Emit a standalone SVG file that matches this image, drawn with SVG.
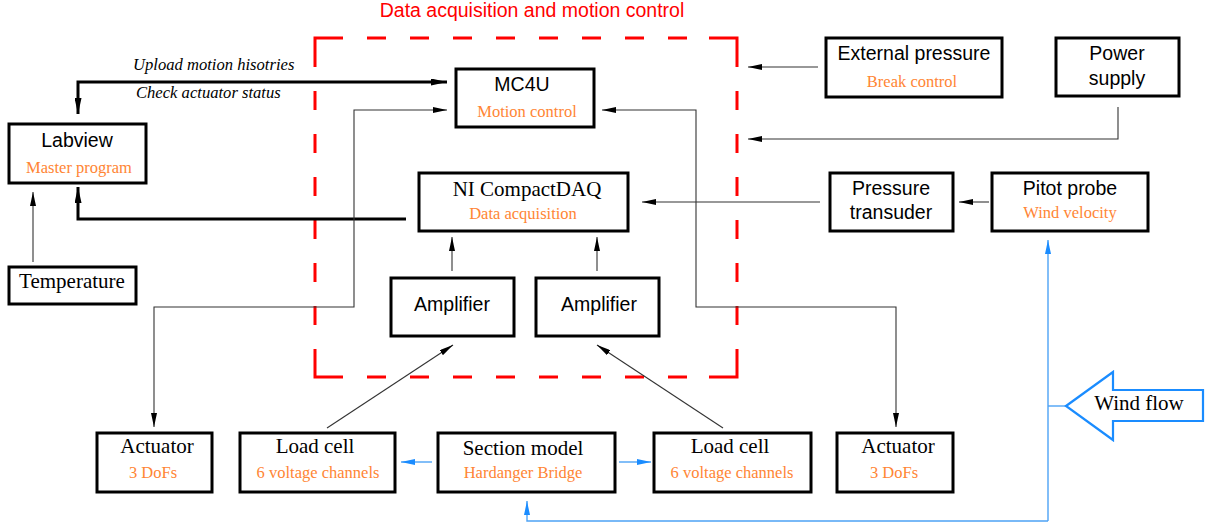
<svg xmlns="http://www.w3.org/2000/svg" width="1205" height="526" viewBox="0 0 1205 526">
  <style>
    .box { fill: #ffffff; stroke: #000000; stroke-width: 3; }
    .sans { font-family: "Liberation Sans", Arial, sans-serif; font-size: 19.5px; fill: #000000; text-anchor: middle; }
    .serif { font-family: "Liberation Serif", "Times New Roman", serif; font-size: 21px; fill: #000000; text-anchor: middle; }
    .sub { font-family: "Liberation Serif", "Times New Roman", serif; font-size: 16.5px; fill: #ff8534; text-anchor: middle; }
    .note { font-family: "Liberation Serif", "Times New Roman", serif; font-size: 16.6px; font-style: italic; fill: #000000; }
    .thin { fill: none; stroke: #333333; stroke-width: 1.1; }
    .thick { fill: none; stroke: #000000; stroke-width: 3; }
    .flow { fill: none; stroke: #4da3f5; stroke-width: 1.4; }
    .frame { fill: none; stroke: #ff0000; stroke-width: 3; }
  </style>
  <defs>
    <marker id="arr" viewBox="0 0 14 6" refX="14" refY="3" markerWidth="14" markerHeight="6" markerUnits="userSpaceOnUse" orient="auto-start-reverse">
      <path d="M0,0 L14,3 L0,6 Z" fill="#000000"/>
    </marker>
    <marker id="arrBold" viewBox="0 0 16 7" refX="16" refY="3.5" markerWidth="16" markerHeight="7" markerUnits="userSpaceOnUse" orient="auto-start-reverse">
      <path d="M0,0 L16,3.5 L0,7 Z" fill="#000000"/>
    </marker>
    <marker id="arrBlue" viewBox="0 0 14 6" refX="14" refY="3" markerWidth="14" markerHeight="6" markerUnits="userSpaceOnUse" orient="auto-start-reverse">
      <path d="M0,0 L14,3 L0,6 Z" fill="#1a8cff"/>
    </marker>
  </defs>

  <!-- dashed frame around acquisition / control hardware -->
  <g id="control-frame">
    <text x="532" y="17" style="font-family: 'Liberation Sans', Arial, sans-serif; font-size: 19.5px; fill: #ff0000; text-anchor: middle;">Data acquisition and motion control</text>
    <path class="frame" d="M315,67 V38 H343"/>
    <path class="frame" d="M709,38 H737 V67"/>
    <path class="frame" d="M737,349 V377 H709"/>
    <path class="frame" d="M343,377 H315 V349"/>
    <path class="frame" stroke-dasharray="19 24" stroke-dashoffset="19" d="M343,38 H709"/>
    <path class="frame" stroke-dasharray="19 24" stroke-dashoffset="19" d="M343,377 H709"/>
    <path class="frame" stroke-dasharray="19 24" stroke-dashoffset="19" d="M315,67 V349"/>
    <path class="frame" stroke-dasharray="19 24" stroke-dashoffset="19" d="M737,67 V349"/>
  </g>

  <!-- connectors -->
  <g id="connectors">
    <path class="thick" d="M78,114 V82 H447" marker-start="url(#arrBold)" marker-end="url(#arrBold)"/>
    <path class="thick" d="M406,219 H78 V187" marker-end="url(#arrBold)"/>
    <path class="thin" d="M33,262 V192" marker-end="url(#arr)"/>
    <path class="thin" d="M154,427 V307 H354 V110 H447" marker-start="url(#arr)" marker-end="url(#arr)"/>
    <path class="thin" d="M896,427 V307 H696 V110 H602" marker-start="url(#arr)" marker-end="url(#arr)"/>
    <path class="thin" d="M818,67 H748" marker-end="url(#arr)"/>
    <path class="thin" d="M1118,107 V139 H748" marker-end="url(#arr)"/>
    <path class="thin" d="M820,202 H642" marker-end="url(#arr)"/>
    <path class="thin" d="M989,202 H959" marker-end="url(#arr)"/>
    <path class="thin" d="M452,271 V237" marker-end="url(#arr)"/>
    <path class="thin" d="M597,271 V237" marker-end="url(#arr)"/>
    <path class="thin" d="M327,428 L453,345" marker-end="url(#arr)"/>
    <path class="thin" d="M723,428 L597,345" marker-end="url(#arr)"/>
    <path class="flow" d="M432,462 H401" marker-end="url(#arrBlue)"/>
    <path class="flow" d="M619,462 H651" marker-end="url(#arrBlue)"/>
    <path class="flow" d="M1066,406 H1048"/>
    <path class="flow" d="M1048,521 V240" marker-end="url(#arrBlue)"/>
    <path class="flow" d="M1048,521 H527 V501" marker-end="url(#arrBlue)"/>
    <text class="note" x="133" y="70">Upload motion hisotries</text>
    <text class="note" x="136" y="98">Check actuator status</text>
  </g>

  <g id="mc4u">
    <rect class="box" x="456" y="69" width="138" height="58"/>
    <text class="sans" x="522" y="91">MC4U</text>
    <text class="sub" x="527" y="117">Motion control</text>
  </g>

  <g id="labview">
    <rect class="box" x="9" y="124" width="137" height="59"/>
    <text class="sans" x="77" y="147">Labview</text>
    <text class="sub" x="79" y="173">Master program</text>
  </g>

  <g id="temperature">
    <rect class="box" x="9" y="267" width="127" height="37"/>
    <text class="serif" x="72" y="288">Temperature</text>
  </g>

  <g id="ni-compactdaq">
    <rect class="box" x="419" y="173" width="209" height="58"/>
    <text class="serif" x="527" y="196">NI CompactDAQ</text>
    <text class="sub" x="523" y="219">Data acquisition</text>
  </g>

  <g id="amplifier-1">
    <rect class="box" x="391" y="278" width="123" height="58"/>
    <text class="sans" x="452" y="311">Amplifier</text>
  </g>

  <g id="amplifier-2">
    <rect class="box" x="536" y="278" width="123" height="58"/>
    <text class="sans" x="599" y="311">Amplifier</text>
  </g>

  <g id="external-pressure">
    <rect class="box" x="826" y="38" width="176" height="59"/>
    <text class="sans" x="914" y="60">External pressure</text>
    <text class="sub" x="912" y="87">Break control</text>
  </g>

  <g id="power-supply">
    <rect class="box" x="1056" y="38" width="123" height="58"/>
    <text class="sans" x="1117" y="60">Power</text>
    <text class="sans" x="1117" y="85">supply</text>
  </g>

  <g id="pressure-transducer">
    <rect class="box" x="830" y="173" width="123" height="58"/>
    <text class="sans" x="891" y="195">Pressure</text>
    <text class="sans" x="891" y="219">transuder</text>
  </g>

  <g id="pitot-probe">
    <rect class="box" x="992" y="173" width="156" height="58"/>
    <text class="sans" x="1070" y="195">Pitot probe</text>
    <text class="sub" x="1070" y="218">Wind velocity</text>
  </g>

  <g id="actuator-left">
    <rect class="box" x="97" y="433" width="115" height="59"/>
    <text class="serif" x="157" y="453">Actuator</text>
    <text class="sub" x="153" y="478">3 DoFs</text>
  </g>

  <g id="load-cell-left">
    <rect class="box" x="240" y="433" width="155" height="59"/>
    <text class="serif" x="315" y="453">Load cell</text>
    <text class="sub" x="318" y="478">6 voltage channels</text>
  </g>

  <g id="section-model">
    <rect class="box" x="438" y="433" width="177" height="59"/>
    <text class="serif" x="523" y="455">Section model</text>
    <text class="sub" x="523" y="478">Hardanger Bridge</text>
  </g>

  <g id="load-cell-right">
    <rect class="box" x="654" y="433" width="157" height="59"/>
    <text class="serif" x="730" y="453">Load cell</text>
    <text class="sub" x="732" y="478">6 voltage channels</text>
  </g>

  <g id="actuator-right">
    <rect class="box" x="837" y="433" width="116" height="59"/>
    <text class="serif" x="898" y="453">Actuator</text>
    <text class="sub" x="894" y="478">3 DoFs</text>
  </g>

  <g id="wind-flow">
    <path d="M1066,406 L1113,372 V390 H1203 V421 H1113 V440 Z" fill="#ffffff" stroke="#1a8cff" stroke-width="2.2" stroke-linejoin="miter"/>
    <text class="serif" x="1139" y="410">Wind flow</text>
  </g>
</svg>
